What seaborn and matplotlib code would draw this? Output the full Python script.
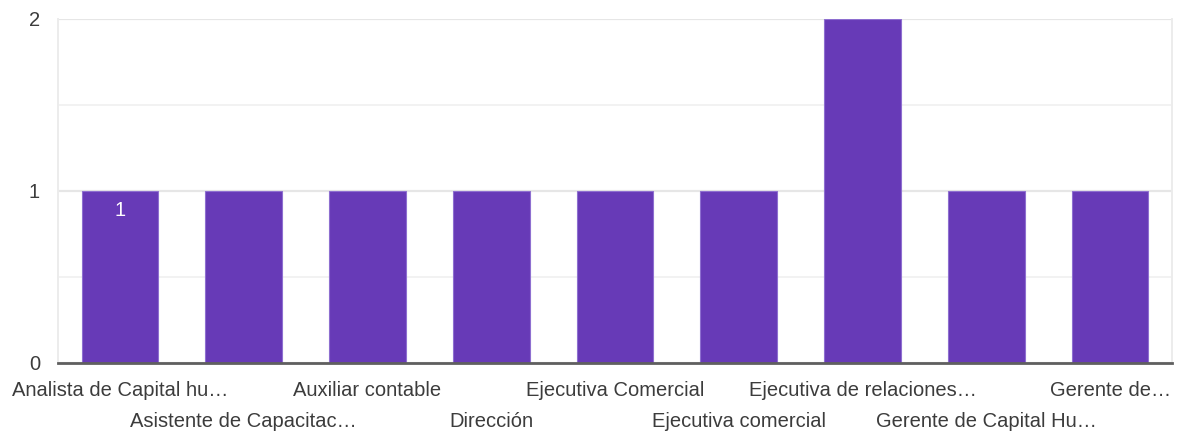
import matplotlib
matplotlib.use("Agg")
import matplotlib.pyplot as plt
import matplotlib.transforms as mtransforms
import seaborn as sns
import pandas as pd

categories = [
    "Analista de Capital hu…",
    "Asistente de Capacitac…",
    "Auxiliar contable",
    "Dirección",
    "Ejecutiva Comercial",
    "Ejecutiva comercial",
    "Ejecutiva de relaciones…",
    "Gerente de Capital Hu…",
    "Gerente de…",
]
counts = [1, 1, 1, 1, 1, 1, 2, 1, 1]
y_ticks = [0, 1, 2]

bar_color = "#673AB7"
text_color = "#3c3c3c"

sns.set_theme(style="white")
plt.rcParams["font.family"] = ["Liberation Sans", "DejaVu Sans"]

df = pd.DataFrame({"cargo": categories, "n": counts})

fig = plt.figure(figsize=(11.8, 4.34), dpi=100)
ax = fig.add_axes([58 / 1180, 71 / 434, (1172 - 58) / 1180, (363 - 19) / 434])

sns.barplot(data=df, x="cargo", y="n", color=bar_color, saturation=1,
            width=0.62, ax=ax, edgecolor="#8e6fd0", linewidth=0.8, zorder=3)

ax.set_xlim(-0.5, len(categories) - 0.5)
ax.set_ylim(0, 2)
ax.set_yticks(y_ticks)
ax.set_yticks([0.5, 1.5], minor=True)
ax.grid(axis="y", which="major", color="#e6e6e6", linewidth=1.6, zorder=0)
ax.grid(axis="y", which="minor", color="#f2f2f2", linewidth=1.4, zorder=0)
ax.set_axisbelow(True)

for side in ("left", "right", "top"):
    ax.spines[side].set_color("#ececec")
    ax.spines[side].set_linewidth(1.4)
ax.spines["top"].set_visible(False)
ax.spines["bottom"].set_color("#5f5f5f")
ax.spines["bottom"].set_linewidth(2)
ax.spines["bottom"].set_zorder(4)

ax.set_xlabel("")
ax.set_ylabel("")
ax.tick_params(axis="both", which="both", length=0, labelsize=14.5,
               labelcolor=text_color)
ax.tick_params(axis="y", pad=13)
ax.tick_params(axis="x", pad=13)

# Alternate the category labels on two rows
ax.set_xticks(range(len(categories)))
ax.set_xticklabels(categories)
row_shift = mtransforms.ScaledTranslation(0, -0.31, fig.dpi_scale_trans)
for i, lab in enumerate(ax.get_xticklabels()):
    if i % 2 == 1:
        lab.set_transform(lab.get_transform() + row_shift)

# Value shown on the first bar
labels = [str(counts[0])] + [""] * (len(counts) - 1)
ax.bar_label(ax.containers[0], labels=labels, padding=-21, color="white",
             fontsize=14.5, zorder=5)

fig.savefig("out.png", dpi=100, facecolor="white")
